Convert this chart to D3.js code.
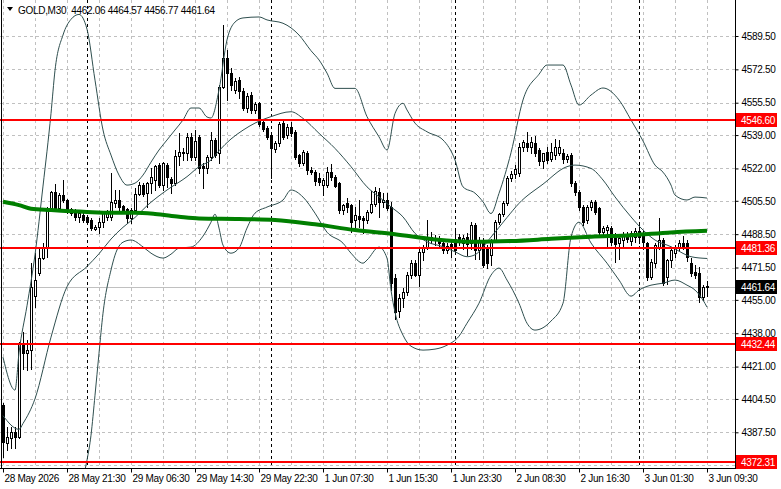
<!DOCTYPE html>
<html>
<head>
<meta charset="utf-8">
<script src="https://cdn.jsdelivr.net/npm/d3@7"></script>
<style>
    body { margin: 0; background: #fff; }
    svg { display: block; font-family: "Liberation Sans", Arial, sans-serif; letter-spacing: -0.3px; }
</style>
</head>
<body>
<svg id="chart" width="781" height="489"></svg>
<script>
// GOLD M30 bars, one value per bar
const openP = [
    4401.4, 4382.1, 4384.4, 4387.4, 4385.2, 4431.9, 4427.7, 4429.4, 4457.0, 4468.5,
    4476.1, 4482.1, 4501.1, 4510.2, 4501.7, 4508.5, 4505.9, 4501.1, 4500.0, 4497.4,
    4498.2, 4497.4, 4495.7, 4491.1, 4492.3, 4494.9, 4497.4, 4497.4, 4504.5, 4505.9,
    4502.8, 4501.3, 4496.5, 4500.8, 4509.0, 4513.6, 4509.3, 4514.4, 4516.1, 4523.7,
    4513.6, 4523.8, 4516.4, 4514.4, 4528.5, 4530.5, 4530.0, 4537.9, 4527.7, 4538.2,
    4523.2, 4522.0, 4528.0, 4536.5, 4529.7, 4563.7, 4578.1, 4570.8, 4562.0, 4567.0,
    4561.5, 4552.6, 4559.4, 4551.8, 4555.2, 4545.8, 4542.4, 4539.0, 4531.9, 4534.8,
    4545.0, 4539.0, 4543.3, 4540.7, 4528.8, 4524.6, 4529.7, 4521.2, 4520.3, 4516.9,
    4513.5, 4513.5, 4520.3, 4517.8, 4514.4, 4500.8, 4504.2, 4503.3, 4495.7, 4497.7,
    4496.5, 4495.7, 4499.9, 4503.8, 4510.2, 4505.0, 4505.9, 4502.5, 4466.0, 4449.5,
    4455.7, 4459.1, 4467.6, 4473.9, 4467.6, 4479.5, 4482.1, 4485.5, 4486.7, 4486.3,
    4483.8, 4480.4, 4483.4, 4486.0, 4487.2, 4483.8, 4487.2, 4483.8, 4493.1, 4480.4,
    4485.5, 4482.1, 4478.0, 4485.5, 4494.8, 4498.6, 4504.2, 4516.9, 4519.3, 4519.5,
    4533.0, 4535.0, 4533.0, 4535.0, 4531.4, 4525.7, 4530.5, 4527.0, 4529.0, 4530.0,
    4530.0, 4527.0, 4528.8, 4514.4, 4510.1, 4502.5, 4495.7, 4502.5, 4505.0, 4501.6,
    4489.7, 4490.5, 4491.4, 4487.0, 4484.0, 4485.5, 4488.0, 4485.0, 4487.0, 4490.0,
    4488.9, 4483.8, 4466.8, 4473.6, 4482.1, 4485.5, 4466.8, 4475.3, 4479.0, 4482.1,
    4484.1, 4483.8, 4473.6, 4469.3, 4468.5, 4456.6, 4462.06
];
const highP = [
    4402.2, 4390.3, 4390.3, 4390.0, 4433.6, 4438.7, 4434.5, 4473.6, 4478.7, 4482.1,
    4483.8, 4502.5, 4510.7, 4513.9, 4509.3, 4516.1, 4506.5, 4501.6, 4501.1, 4500.8,
    4499.1, 4498.2, 4496.5, 4493.1, 4496.5, 4500.0, 4500.8, 4519.5, 4511.0, 4511.0,
    4503.3, 4501.6, 4501.6, 4511.9, 4515.3, 4514.7, 4515.3, 4522.0, 4523.8, 4524.6,
    4525.5, 4524.6, 4517.8, 4531.4, 4539.9, 4532.3, 4539.9, 4539.9, 4541.6, 4539.0,
    4524.6, 4528.8, 4540.7, 4537.4, 4564.5, 4595.1, 4582.4, 4573.0, 4568.0, 4568.5,
    4563.0, 4560.5, 4561.0, 4556.0, 4556.0, 4547.0, 4543.5, 4540.0, 4536.0, 4545.5,
    4546.0, 4544.5, 4545.5, 4541.5, 4529.5, 4531.5, 4531.0, 4522.5, 4521.0, 4519.5,
    4517.0, 4522.8, 4524.5, 4518.5, 4515.0, 4504.0, 4506.7, 4504.0, 4502.5, 4505.9,
    4497.5, 4500.8, 4510.6, 4512.3, 4511.9, 4509.3, 4509.3, 4505.0, 4468.0, 4458.2,
    4460.8, 4469.3, 4475.3, 4475.3, 4482.0, 4482.9, 4495.7, 4489.7, 4488.0, 4487.5,
    4485.0, 4484.0, 4485.5, 4490.0, 4488.5, 4488.0, 4489.0, 4494.8, 4494.0, 4487.0,
    4486.5, 4483.0, 4486.0, 4495.5, 4499.5, 4505.5, 4518.0, 4520.5, 4524.0, 4535.0,
    4536.5, 4540.7, 4538.0, 4538.5, 4532.5, 4530.0, 4533.0, 4535.0, 4537.0, 4536.5,
    4532.0, 4529.5, 4530.0, 4515.5, 4511.0, 4503.5, 4503.5, 4506.0, 4506.0, 4502.5,
    4492.5, 4493.0, 4492.5, 4489.0, 4488.5, 4489.5, 4489.5, 4490.0, 4491.5, 4493.5,
    4490.0, 4484.5, 4476.0, 4484.0, 4496.5, 4486.5, 4476.0, 4482.0, 4483.0, 4485.5,
    4487.5, 4485.5, 4476.5, 4473.0, 4472.0, 4462.5, 4464.57
];
const lowP = [
    4375.0, 4378.4, 4379.3, 4379.3, 4384.4, 4420.0, 4419.2, 4420.0, 4451.5, 4467.7,
    4475.6, 4477.0, 4500.8, 4500.8, 4500.8, 4505.0, 4499.1, 4498.2, 4495.7, 4494.9,
    4494.9, 4494.0, 4490.6, 4490.6, 4488.9, 4492.3, 4495.7, 4495.7, 4502.5, 4500.0,
    4499.1, 4494.3, 4494.3, 4500.0, 4508.5, 4507.9, 4502.5, 4509.3, 4511.0, 4512.7,
    4511.0, 4512.7, 4509.3, 4513.6, 4523.7, 4526.3, 4526.3, 4526.3, 4526.3, 4519.5,
    4511.9, 4519.5, 4526.3, 4528.0, 4524.6, 4562.9, 4556.9, 4562.0, 4560.3, 4558.0,
    4552.0, 4551.0, 4550.5, 4550.5, 4543.5, 4541.0, 4537.0, 4516.9, 4530.5, 4533.5,
    4537.0, 4537.5, 4538.5, 4527.0, 4523.0, 4523.5, 4519.0, 4519.0, 4513.5, 4513.5,
    4508.5, 4512.5, 4516.0, 4512.5, 4499.5, 4499.0, 4500.0, 4489.7, 4492.3, 4492.3,
    4488.9, 4494.0, 4499.4, 4503.0, 4497.4, 4502.5, 4500.8, 4460.0, 4445.5, 4446.4,
    4451.5, 4457.4, 4466.0, 4467.0, 4462.0, 4475.3, 4481.0, 4484.0, 4483.0, 4481.5,
    4478.7, 4479.0, 4477.0, 4479.0, 4483.0, 4481.0, 4478.0, 4481.0, 4476.0, 4476.0,
    4471.9, 4471.0, 4473.0, 4484.5, 4493.5, 4497.5, 4503.5, 4515.5, 4517.0, 4518.0,
    4531.0, 4531.0, 4530.0, 4528.5, 4524.0, 4522.0, 4525.0, 4526.0, 4527.0, 4529.0,
    4525.0, 4525.5, 4513.0, 4508.5, 4501.0, 4493.0, 4494.0, 4501.0, 4499.0, 4488.5,
    4488.5, 4482.0, 4483.0, 4474.5, 4476.0, 4482.0, 4484.5, 4483.0, 4484.5, 4484.0,
    4481.0, 4465.0, 4465.5, 4472.0, 4481.0, 4462.5, 4463.0, 4472.0, 4477.0, 4480.5,
    4481.0, 4475.0, 4467.0, 4466.0, 4454.0, 4455.0, 4456.77
];
const closeP = [
    4382.7, 4385.2, 4387.4, 4385.2, 4432.8, 4427.7, 4429.7, 4461.7, 4465.1, 4476.1,
    4482.1, 4501.7, 4510.2, 4501.7, 4508.5, 4505.9, 4500.5, 4499.1, 4497.4, 4499.1,
    4495.7, 4494.9, 4491.5, 4492.3, 4494.9, 4499.5, 4499.9, 4505.0, 4505.9, 4502.5,
    4500.8, 4496.5, 4500.8, 4509.0, 4513.6, 4509.0, 4514.7, 4517.8, 4523.2, 4513.6,
    4524.6, 4517.8, 4514.4, 4528.3, 4530.5, 4529.7, 4537.9, 4527.7, 4536.0, 4522.0,
    4522.0, 4528.0, 4536.5, 4528.8, 4563.7, 4578.1, 4570.5, 4564.5, 4566.6, 4561.5,
    4553.0, 4558.9, 4551.8, 4554.7, 4544.6, 4542.0, 4538.2, 4532.2, 4534.8, 4544.6,
    4538.2, 4543.3, 4539.9, 4528.0, 4524.6, 4530.5, 4521.2, 4520.3, 4515.7, 4515.2,
    4516.1, 4520.3, 4517.8, 4513.0, 4500.8, 4503.3, 4502.5, 4494.8, 4498.2, 4496.0,
    4495.7, 4499.9, 4503.8, 4510.5, 4505.0, 4505.9, 4501.6, 4463.4, 4448.9, 4455.7,
    4459.1, 4467.6, 4473.6, 4467.6, 4479.5, 4482.1, 4486.3, 4487.2, 4485.5, 4483.8,
    4480.4, 4482.4, 4481.2, 4480.4, 4484.6, 4486.3, 4483.4, 4493.1, 4480.4, 4485.5,
    4472.7, 4473.6, 4485.5, 4494.8, 4498.6, 4504.2, 4516.9, 4519.3, 4521.5, 4533.0,
    4535.6, 4533.0, 4535.6, 4529.7, 4525.7, 4529.7, 4526.5, 4530.5, 4533.0, 4533.0,
    4527.0, 4528.5, 4514.4, 4510.1, 4502.5, 4494.8, 4502.5, 4505.0, 4500.0, 4489.7,
    4491.4, 4492.0, 4484.6, 4483.5, 4486.7, 4488.0, 4486.0, 4488.9, 4490.0, 4487.0,
    4484.6, 4466.8, 4474.4, 4482.9, 4485.5, 4463.4, 4475.3, 4480.4, 4482.1, 4483.8,
    4482.1, 4477.0, 4468.5, 4467.6, 4456.6, 4461.6, 4461.64
];

// indicator lines, [bar, price] read at points along each line
const upperBand = [
    [0, 4425.8], [3, 4409], [4, 4428], [6, 4452], [8, 4478], [10, 4513], [12, 4550], [13, 4572],
    [15, 4590], [17, 4598], [19, 4600.5], [21, 4593], [23, 4567], [25, 4541.6], [27, 4528.8],
    [29, 4518.6], [31, 4513.5], [33, 4514.5], [35, 4518.6], [37, 4525.2], [39, 4531.4],
    [41, 4536.5], [43, 4541.6], [45, 4546.7], [47, 4552.8], [49, 4552.8], [51, 4548.2],
    [52, 4547.7], [54, 4562], [56, 4587.5], [58, 4596.6], [60, 4598.7], [64, 4599.2],
    [66, 4597.7], [70, 4596], [74, 4590], [77, 4582], [79, 4577.3], [81, 4570.6], [83, 4562.8],
    [88, 4562.8], [91, 4548.4], [94, 4538.1], [96, 4531.4], [98, 4550], [100, 4555.2],
    [101, 4551.8], [103, 4545.1], [106, 4540.7], [110, 4536.5], [113, 4526.3], [115, 4512.6],
    [118, 4509.4], [120, 4505], [122, 4499], [124, 4509.3], [127, 4530], [130, 4556.9],
    [134, 4570], [136, 4574.7], [140, 4574.7], [142, 4564.5], [144, 4554.3], [147, 4559.4],
    [150, 4563], [154, 4556.9], [157, 4546.7], [160, 4536], [163, 4523.7], [165, 4520.1],
    [167, 4513.5], [168, 4508.4], [171, 4505.9], [173, 4507.4], [176, 4506.9]
];
const middleBand = [
    [0, 4396], [4, 4389], [5, 4392], [8, 4404.6], [12, 4436], [16, 4461.7], [21, 4472],
    [24, 4478.5], [27, 4486], [30, 4492], [33, 4497], [36, 4503], [41, 4511], [46, 4517.8],
    [49, 4522.9], [52, 4526.3], [54, 4531], [57, 4537], [60, 4541.5], [63, 4545.1],
    [67, 4548.4], [72, 4550.9], [75, 4547.5], [79, 4539.9], [83, 4532.2], [87, 4522.9],
    [91, 4512.6], [94, 4507.5], [97, 4502.4], [100, 4497.3], [103, 4488.9], [106, 4484.6],
    [110, 4482.1], [113, 4479.5], [116, 4477], [118, 4478], [122, 4487], [126, 4497],
    [129, 4504.2], [135, 4514], [141, 4522.9], [143, 4523.7], [147, 4522], [150, 4516.1],
    [153, 4507.5], [157, 4497.3], [160, 4490.6], [163, 4485.5], [167, 4482.1], [170, 4478.7],
    [172, 4477], [176, 4476.1]
];
const lowerBand = [
    [0, 4362], [3, 4365], [4, 4350], [6, 4322], [10, 4300], [15, 4310], [17, 4345], [19, 4358],
    [21, 4373.3], [22, 4386], [23, 4406.4], [24, 4427.8], [25, 4448.2], [27, 4470.2],
    [28, 4477.8], [30, 4484.4], [32, 4485.5], [35, 4482], [37, 4478.8], [40, 4476.3],
    [42, 4478.3], [44, 4481.4], [47, 4481.9], [50, 4487.5], [52, 4494.6], [53, 4498.7],
    [54, 4491.6], [55, 4482.9], [57, 4478.8], [59, 4481.4], [61, 4491.6], [63, 4499.2],
    [66, 4502.3], [70, 4505.9], [72, 4511], [75, 4507.4], [78, 4499.2], [81, 4489.5],
    [85, 4483.9], [87, 4478.8], [90, 4473.7], [91, 4475.3], [94, 4481.9], [96, 4476.3],
    [97, 4460], [98, 4448.7], [100, 4437], [102, 4431.4], [105, 4429.4], [108, 4429.9],
    [111, 4431.9], [114, 4436.5], [116, 4443.1], [119, 4453.3], [122, 4467.6], [124, 4471.2],
    [126, 4465.1], [129, 4453.3], [131, 4443.1], [133, 4439.6], [137, 4444.2], [140, 4453.3],
    [142, 4487], [144, 4494.6], [147, 4484], [151, 4473.7], [154, 4465.1], [157, 4456.9],
    [159, 4460], [162, 4462.5], [165, 4463.5], [168, 4465.1], [171, 4462.5], [173, 4460],
    [175, 4454.9], [176, 4451.3]
];
const slowMA = [
    [0, 4505.0], [4, 4503.3], [7, 4501.5], [12, 4500.8], [21, 4499.8], [27, 4499.4],
    [33, 4499.4], [38, 4498.8], [44, 4497.4], [49, 4496.5], [59, 4496.2], [68, 4495.7],
    [78, 4493.5], [88, 4490.6], [98, 4488.5], [108, 4485.8], [118, 4484.6], [127, 4485.0],
    [137, 4486.1], [147, 4487.2], [157, 4488.0], [167, 4489.4], [176, 4490.2]
];

const levels = [4546.60, 4481.36, 4432.44, 4372.31];
const lastPrice = 4461.64;
const priceTicks = [4589.50, 4572.50, 4555.50, 4539.00, 4522.00, 4505.50, 4488.50,
                    4471.50, 4455.00, 4438.00, 4421.00, 4404.50, 4387.50, 4371.00];
const timeLabels = ["28 May 2026", "28 May 21:30", "29 May 06:30", "29 May 14:30",
                    "29 May 22:30", "1 Jun 07:30", "1 Jun 15:30", "1 Jun 23:30",
                    "2 Jun 08:30", "2 Jun 16:30", "3 Jun 01:30", "3 Jun 09:30"];
const daySeparators = [21, 67, 113, 159];
const titleText = "GOLD,M30  4462.06 4464.57 4456.77 4461.64";

const plotW = 735, plotH = 468;
const fontSize = 10;
const svg = d3.select("#chart");

const x = d3.scaleLinear().domain([0, openP.length - 1]).range([3, 707]);
const y = d3.scaleLinear().domain([4387.5, 4589.5]).range([432.3, 36]);
const px = v => Math.round(x(v));

svg.append("defs").append("clipPath").attr("id", "plot")
    .append("rect").attr("width", plotW).attr("height", plotH);

const plot = svg.append("g").attr("clip-path", "url(#plot)");

// grid
const gridBars = d3.range(0, openP.length, 8);
plot.append("g").selectAll("line").data(gridBars).join("line")
    .attr("x1", d => px(d) + 0.5).attr("x2", d => px(d) + 0.5)
    .attr("y1", 0).attr("y2", plotH)
    .attr("stroke", "#c0c0c0").attr("stroke-dasharray", "3,3");
plot.append("g").selectAll("line").data(priceTicks).join("line")
    .attr("x1", 0).attr("x2", plotW)
    .attr("y1", d => Math.round(y(d)) + 0.5).attr("y2", d => Math.round(y(d)) + 0.5)
    .attr("stroke", "#c0c0c0").attr("stroke-dasharray", "3,3");

// day separators
plot.append("g").selectAll("line").data(daySeparators).join("line")
    .attr("x1", d => px(d) + 0.5).attr("x2", d => px(d) + 0.5)
    .attr("y1", 0).attr("y2", plotH)
    .attr("stroke", "#000").attr("stroke-dasharray", "3,3");

// bid line
plot.append("line")
    .attr("x1", 0).attr("x2", plotW)
    .attr("y1", Math.round(y(lastPrice)) + 0.5).attr("y2", Math.round(y(lastPrice)) + 0.5)
    .attr("stroke", "#c0c0c0");

// candles
const bars = plot.append("g").selectAll("g").data(openP.map((o, i) => i)).join("g");
bars.append("line")
    .attr("x1", i => px(i) + 0.5).attr("x2", i => px(i) + 0.5)
    .attr("y1", i => Math.round(y(highP[i]))).attr("y2", i => Math.round(y(lowP[i])) + 1)
    .attr("stroke", "#000");
bars.append("rect")
    .attr("x", i => px(i) - 0.5)
    .attr("width", 2)
    .attr("y", i => Math.round(y(Math.max(openP[i], closeP[i]))) + 0.5)
    .attr("height", i => Math.max(0, Math.round(y(Math.min(openP[i], closeP[i]))) - Math.round(y(Math.max(openP[i], closeP[i])))))
    .attr("fill", i => closeP[i] >= openP[i] ? "#fff" : "#000")
    .attr("stroke", "#000");

// Bollinger bands
const bandLine = d3.line().x(d => x(d[0])).y(d => y(d[1])).curve(d3.curveMonotoneX);
[upperBand, middleBand, lowerBand].forEach(b => {
    plot.append("path").datum(b)
        .attr("d", bandLine)
        .attr("fill", "none")
        .attr("stroke", "#2f4f4f")
        .attr("stroke-width", 1);
});

// slow moving average
plot.append("path").datum(slowMA)
    .attr("d", bandLine)
    .attr("fill", "none")
    .attr("stroke", "#007f00")
    .attr("stroke-width", 4);

// horizontal levels
plot.append("g").selectAll("line").data(levels).join("line")
    .attr("x1", 0).attr("x2", plotW)
    .attr("y1", d => Math.round(y(d))).attr("y2", d => Math.round(y(d)))
    .attr("stroke", "#ff0000").attr("stroke-width", 2);

// frame
svg.append("line").attr("x1", plotW + 0.5).attr("x2", plotW + 0.5)
    .attr("y1", 0).attr("y2", plotH + 1).attr("stroke", "#000");
svg.append("line").attr("x1", 0).attr("x2", plotW + 1)
    .attr("y1", plotH + 0.5).attr("y2", plotH + 0.5).attr("stroke", "#000");
svg.append("line").attr("x1", 1.5).attr("x2", 1.5)
    .attr("y1", 0).attr("y2", plotH).attr("stroke", "#000");

// price axis
const yAxis = svg.append("g")
    .attr("transform", `translate(${plotW + 0.5},0)`)
    .call(d3.axisRight(y).tickValues(priceTicks).tickSize(3).tickPadding(3)
        .tickFormat(d3.format(".2f")));
yAxis.select(".domain").remove();
yAxis.selectAll("text").attr("font-size", fontSize).attr("fill", "#000")
    .attr("font-family", null);

// level price tags
const tags = levels.map(v => ({ v, fill: "#ff0000" })).concat([{ v: lastPrice, fill: "#000" }]);
const tag = svg.append("g").selectAll("g").data(tags).join("g")
    .attr("transform", d => `translate(${plotW + 1},${Math.round(y(d.v))})`);
tag.append("rect").attr("x", 0).attr("y", -7).attr("width", 41).attr("height", 14)
    .attr("fill", d => d.fill);
tag.append("text").attr("x", 5).attr("y", 0).attr("dy", "0.35em")
    .attr("font-size", fontSize).attr("fill", "#fff")
    .text(d => d.v.toFixed(2));

// time axis
const labelBars = timeLabels.map((t, i) => i * 16);
const xAxis = svg.append("g")
    .attr("transform", `translate(0.5,${plotH + 0.5})`)
    .call(d3.axisBottom(x).tickValues(labelBars).tickSize(4)
        .tickFormat((d, i) => timeLabels[i]));
xAxis.select(".domain").remove();
xAxis.selectAll(".tick").attr("transform", d => `translate(${px(d)},0)`);
xAxis.selectAll("text").attr("text-anchor", "start").attr("x", 1).attr("y", 6)
    .attr("font-size", fontSize).attr("fill", "#000")
    .attr("font-family", null);

// title
svg.append("path").attr("d", "M7,7 L13,7 L10,11 Z").attr("fill", "#000");
svg.append("text").attr("x", 18).attr("y", 14)
    .attr("font-size", fontSize).attr("fill", "#000")
    .style("white-space", "pre")
    .text(titleText);
</script>
</body>
</html>
